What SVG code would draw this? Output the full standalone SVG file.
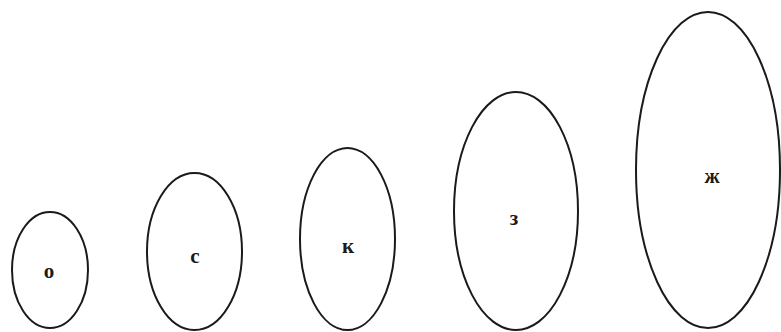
<svg xmlns="http://www.w3.org/2000/svg" width="781" height="332" viewBox="0 0 781 332">
<style>
.e{fill:none;stroke:#1a1a1a;stroke-width:2}
.t{font-family:"Liberation Serif","DejaVu Serif",serif;font-weight:bold;font-size:21px;fill:#1a1a1a;text-anchor:middle}
</style>
<rect width="781" height="332" fill="#fff"/>
<g id="node-o"><ellipse class="e" cx="50" cy="270" rx="38" ry="58"/><text class="t" x="49" y="278">о</text></g>
<g id="node-s"><ellipse class="e" cx="194.5" cy="251.5" rx="47.5" ry="78.5"/><text class="t" x="195" y="263">с</text></g>
<g id="node-k"><ellipse class="e" cx="347.5" cy="239" rx="47.5" ry="91"/><text class="t" x="348" y="253">к</text></g>
<g id="node-z"><ellipse class="e" cx="516" cy="211" rx="62" ry="119"/><text class="t" x="514" y="225">з</text></g>
<g id="node-zh"><ellipse class="e" cx="708" cy="170" rx="72" ry="158"/><text class="t" x="712" y="183">ж</text></g>
<g id="connectors"/>
</svg>
